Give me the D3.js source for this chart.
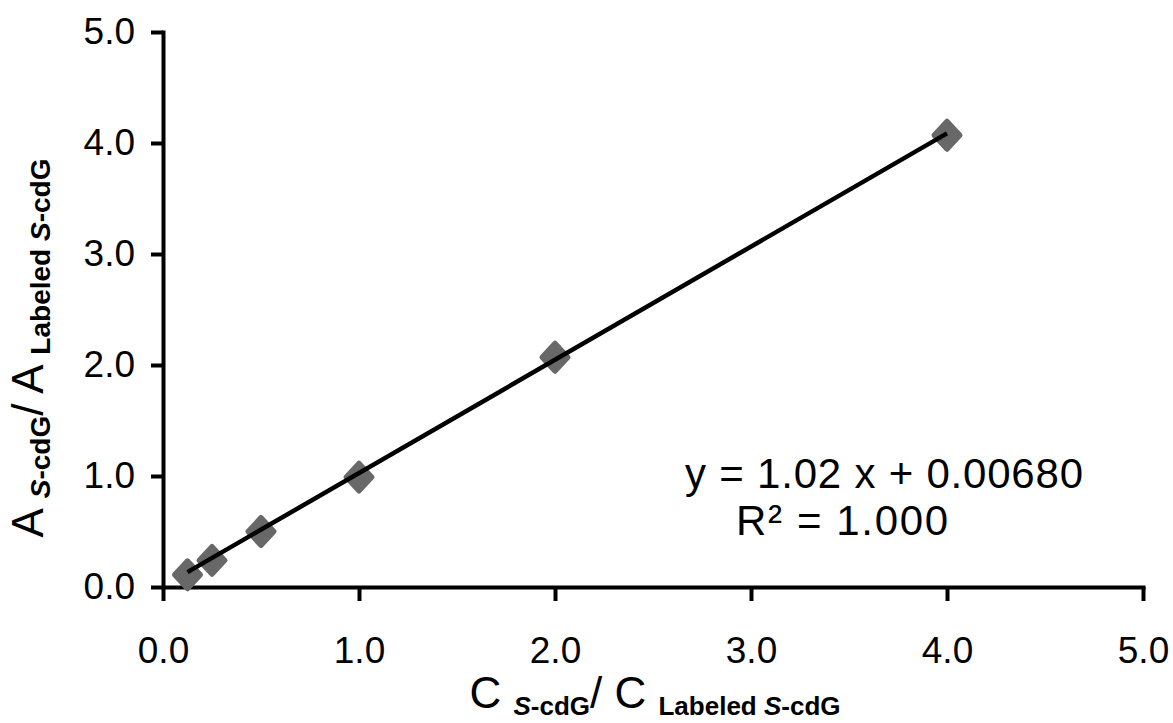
<!DOCTYPE html>
<html>
<head>
<meta charset="utf-8">
<script src="https://cdn.jsdelivr.net/npm/d3@7"></script>
<style>
  html, body { margin: 0; padding: 0; background: #fff; }
  svg { display: block; font-family: "Liberation Sans", Arial, sans-serif; }
</style>
</head>
<body>
<svg id="chart" width="1173" height="723"></svg>
<script>
// Calibration points: concentration ratio vs. peak-area ratio
const concRatio = [0.125, 0.25, 0.5, 1, 2, 4];
const areaRatio = [0.11, 0.24, 0.50, 0.99, 2.07, 4.07];

// Linear fit reported on the chart
const fitSlope = 1.02;
const fitIntercept = 0.00680;
const fitR2 = 1.000;

const xTicks = [0, 1, 2, 3, 4, 5];
const yTicks = [0, 1, 2, 3, 4, 5];

const svg = d3.select("#chart");
const plot = { left: 163, right: 1143, top: 32, bottom: 587 };

const x = d3.scaleLinear().domain([0, 5]).range([plot.left, plot.right]);
const y = d3.scaleLinear().domain([0, 5]).range([plot.bottom, plot.top]);
const fmt = d3.format(".1f");

// Axes
const xAxis = svg.append("g")
  .attr("transform", `translate(0,${plot.bottom})`)
  .call(d3.axisBottom(x).tickValues(xTicks).tickFormat(fmt)
    .tickSize(14).tickSizeOuter(0).tickPadding(36));
const yAxis = svg.append("g")
  .attr("transform", `translate(${plot.left},0)`)
  .call(d3.axisLeft(y).tickValues(yTicks).tickFormat(fmt)
    .tickSize(12).tickSizeOuter(0).tickPadding(16));

[xAxis, yAxis].forEach(g => {
  g.select(".domain").attr("stroke", "#000").attr("stroke-width", 4)
    .attr("stroke-linecap", "square");
  g.selectAll(".tick line").attr("stroke", "#000").attr("stroke-width", 4);
  g.selectAll(".tick text").attr("fill", "#000")
    .style("font-size", "37px")
    .style("font-family", '"Liberation Sans", Arial, sans-serif');
});

// Data markers (rounded grey diamonds)
const pts = concRatio.map((c, i) => ({ c, a: areaRatio[i] }));
svg.append("g").selectAll("path")
  .data(pts)
  .join("path")
  .attr("transform", d => `translate(${x(d.c)},${y(d.a)})`)
  .attr("d", "M0,-14 L13,0 L0,14 L-13,0 Z")
  .attr("fill", "#686868")
  .attr("stroke", "#686868")
  .attr("stroke-width", 5)
  .attr("stroke-linejoin", "round");

// Regression line across the measured range
const xMin = d3.min(concRatio), xMax = d3.max(concRatio);
const fitLine = [xMin, xMax].map(c => ({ c, a: fitSlope * c + fitIntercept }));
svg.append("path")
  .datum(fitLine)
  .attr("d", d3.line().x(d => x(d.c)).y(d => y(d.a)))
  .attr("fill", "none")
  .attr("stroke", "#000")
  .attr("stroke-width", 4.5);

// Fit equation
svg.append("text")
  .attr("x", 884).attr("y", 488)
  .attr("text-anchor", "middle")
  .style("font-size", "42px")
  .attr("textLength", 398)
  .text(`y = ${fitSlope.toFixed(2)} x + ${fitIntercept.toFixed(5)}`);
svg.append("text")
  .attr("x", 842).attr("y", 535)
  .attr("text-anchor", "middle")
  .style("font-size", "42px")
  .attr("textLength", 212)
  .text(`R\u00B2 = ${fitR2.toFixed(3)}`);

// Axis title builder: big letter with bold subscripts
function axisTitle(sel, letter, sub) {
  const big = "44px", shift = 7;
  sel.append("tspan").style("font-size", big).text(letter + " ");
  sel.append("tspan").style("font-size", sub).style("font-weight", "bold")
    .style("font-style", "italic").attr("dy", shift).text("S");
  sel.append("tspan").style("font-size", sub).style("font-weight", "bold").text("-cdG");
  sel.append("tspan").style("font-size", big).attr("dy", -shift).text("/ " + letter + " ");
  sel.append("tspan").style("font-size", sub).style("font-weight", "bold")
    .attr("dy", shift).text("Labeled ");
  sel.append("tspan").style("font-size", sub).style("font-weight", "bold")
    .style("font-style", "italic").text("S");
  sel.append("tspan").style("font-size", sub).style("font-weight", "bold").text("-cdG");
}

svg.append("text")
  .attr("x", 655).attr("y", 708)
  .attr("text-anchor", "middle")
  .call(axisTitle, "C", "26px");

svg.append("text")
  .attr("transform", "translate(43,348) rotate(-90)")
  .attr("text-anchor", "middle")
  .call(axisTitle, "A", "28px");
</script>
</body>
</html>
